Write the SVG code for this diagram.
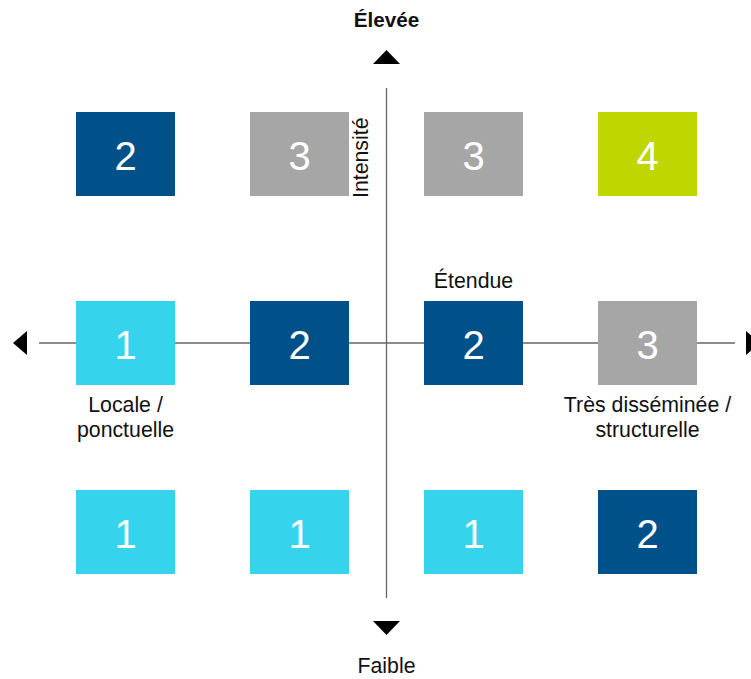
<svg xmlns="http://www.w3.org/2000/svg" width="751" height="679" viewBox="0 0 751 679">
<style>
.lbl{font-family:"Liberation Sans",Arial,sans-serif;font-size:21.3px;fill:#111;}
.b{font-weight:bold;font-size:20.7px;}
.num{font-family:"Liberation Sans",Arial,sans-serif;font-size:40px;fill:#fff;text-anchor:middle;}
.db{fill:#00508A;}
.lb{fill:#36D4EC;}
.gr{fill:#A6A6A6;}
.gn{fill:#C0D600;}
.ax{stroke:#666;stroke-width:1.3;fill:none;}
.ah{fill:#000;}
</style>
<rect width="751" height="679" fill="#fff"/>
<g id="connectors">
<line class="ax" x1="39" y1="343" x2="735" y2="343"/>
<line class="ax" x1="386.5" y1="88" x2="386.5" y2="598"/>
<polygon class="ah" points="13,343 27,331 27,355"/>
<polygon class="ah" points="760,343 746,331 746,355"/>
<polygon class="ah" points="386.5,50 373,64 400,64"/>
<polygon class="ah" points="386.5,635 373,621 400,621"/>
</g>
<g id="r1c1"><rect class="db" x="76" y="112" width="99" height="84"/><text class="num" x="125.5" y="170">2</text></g>
<g id="r1c2"><rect class="gr" x="250" y="112" width="99" height="84"/><text class="num" x="299.5" y="170">3</text></g>
<g id="r1c3"><rect class="gr" x="424" y="112" width="99" height="84"/><text class="num" x="473.5" y="170">3</text></g>
<g id="r1c4"><rect class="gn" x="598" y="112" width="99" height="84"/><text class="num" x="647.5" y="170">4</text></g>
<g id="r2c1"><rect class="lb" x="76" y="301" width="99" height="84"/><text class="num" x="125.5" y="359">1</text></g>
<g id="r2c2"><rect class="db" x="250" y="301" width="99" height="84"/><text class="num" x="299.5" y="359">2</text></g>
<g id="r2c3"><rect class="db" x="424" y="301" width="99" height="84"/><text class="num" x="473.5" y="359">2</text></g>
<g id="r2c4"><rect class="gr" x="598" y="301" width="99" height="84"/><text class="num" x="647.5" y="359">3</text></g>
<g id="r3c1"><rect class="lb" x="76" y="490" width="99" height="84"/><text class="num" x="125.5" y="548">1</text></g>
<g id="r3c2"><rect class="lb" x="250" y="490" width="99" height="84"/><text class="num" x="299.5" y="548">1</text></g>
<g id="r3c3"><rect class="lb" x="424" y="490" width="99" height="84"/><text class="num" x="473.5" y="548">1</text></g>
<g id="r3c4"><rect class="db" x="598" y="490" width="99" height="84"/><text class="num" x="647.5" y="548">2</text></g>
<g id="labels">
<text class="lbl b" x="386.5" y="27" text-anchor="middle">Élevée</text>
<text class="lbl" x="386.5" y="673" text-anchor="middle">Faible</text>
<text class="lbl" transform="translate(368,198) rotate(-90)">Intensité</text>
<text class="lbl" x="473.5" y="288" text-anchor="middle">Étendue</text>
<text class="lbl" x="125.5" y="412" text-anchor="middle">Locale /</text>
<text class="lbl" x="125.5" y="437" text-anchor="middle">ponctuelle</text>
<text class="lbl" x="647.5" y="412" text-anchor="middle">Très disséminée /</text>
<text class="lbl" x="647.5" y="437" text-anchor="middle">structurelle</text>
</g>
</svg>
